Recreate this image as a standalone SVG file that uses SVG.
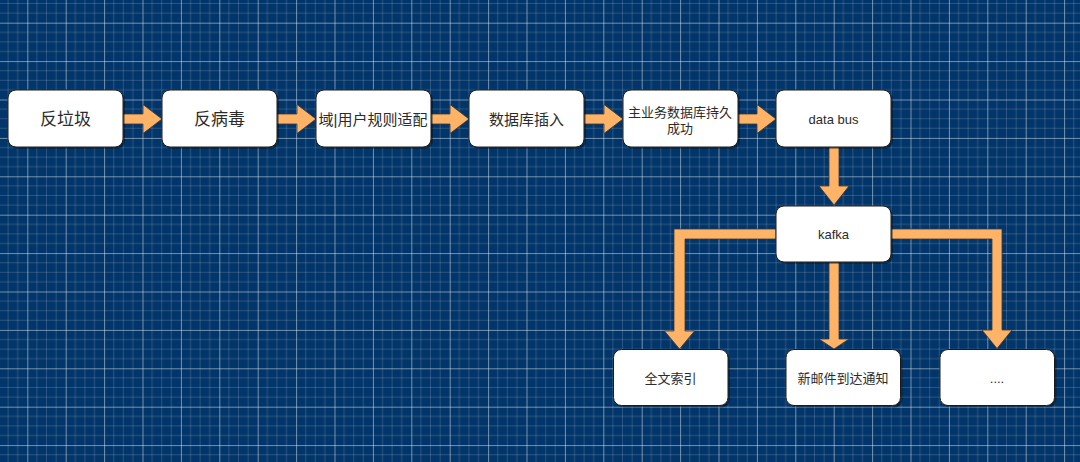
<svg xmlns="http://www.w3.org/2000/svg" width="1080" height="462" viewBox="0 0 1080 462">
  <style>
    .box { fill: #ffffff; stroke: #1a1a1a; stroke-width: 1; }
    .shadow { fill: #000000; opacity: 0.35; }
    .arrow { fill: #FFB366; stroke: #3a3a3a; stroke-width: 0.8; stroke-linejoin: miter; }
    .lbl { font-family: "Liberation Sans", "Noto Sans CJK SC", sans-serif; fill: #2b2b2b; text-anchor: middle; dominant-baseline: central; }
    .s13 { font-size: 13px; }
    .s15 { font-size: 15px; }
    .s17 { font-size: 17px; }
  </style>
  <defs>
    <pattern id="grid" patternUnits="userSpaceOnUse" x="27.3" y="22.7" width="38.4" height="38.4">
      <rect width="38.4" height="38.4" fill="#023569"/>
      <g stroke="#ffffff" stroke-opacity="0.16" stroke-width="1">
        <line x1="9.6" y1="0" x2="9.6" y2="38.4"/>
        <line x1="19.2" y1="0" x2="19.2" y2="38.4"/>
        <line x1="28.8" y1="0" x2="28.8" y2="38.4"/>
        <line x1="0" y1="9.6" x2="38.4" y2="9.6"/>
        <line x1="0" y1="19.2" x2="38.4" y2="19.2"/>
        <line x1="0" y1="28.8" x2="38.4" y2="28.8"/>
      </g>
      <g stroke="#ffffff" stroke-opacity="0.45" stroke-width="1">
        <line x1="0.5" y1="0" x2="0.5" y2="38.4"/>
        <line x1="0" y1="0.5" x2="38.4" y2="0.5"/>
      </g>
    </pattern>
  </defs>

  <rect x="0" y="0" width="1080" height="462" fill="url(#grid)"/>

  <g id="connectors">
    <path class="arrow" d="M123,114 H143 V104.5 L162,119 L143,133.5 V124 H123 Z"/>
    <path class="arrow" d="M277,114 H297 V104.5 L316,119 L297,133.5 V124 H277 Z"/>
    <path class="arrow" d="M431,114 H450 V104.5 L469,119 L450,133.5 V124 H431 Z"/>
    <path class="arrow" d="M584,114 H604 V104.5 L623,119 L604,133.5 V124 H584 Z"/>
    <path class="arrow" d="M738,114 H757 V104.5 L776,119 L757,133.5 V124 H738 Z"/>
    <path class="arrow" d="M829,147 V186 H819 L834,205 L849,186 H839 V147 Z"/>
    <path class="arrow" d="M776,229 H674 V331 H664.5 L679.5,349 L694.5,331 H685 V239 H776 Z"/>
    <path class="arrow" d="M829,262 V339 H819 L834,349 L849,339 H839 V262 Z"/>
    <path class="arrow" d="M891,229 H1002 V330 H1012 L997,348.5 L982,330 H992 V239 H891 Z"/>
  </g>

  <g id="n1">
    <rect class="shadow" x="10" y="92" width="115" height="57" rx="8"/>
    <rect class="box" x="8" y="90" width="115" height="57" rx="8"/>
    <text class="lbl s17" x="65.5" y="119">反垃圾</text>
  </g>
  <g id="n2">
    <rect class="shadow" x="164" y="92" width="115" height="57" rx="8"/>
    <rect class="box" x="162" y="90" width="115" height="57" rx="8"/>
    <text class="lbl s17" x="219.5" y="119">反病毒</text>
  </g>
  <g id="n3">
    <rect class="shadow" x="318" y="92" width="115" height="57" rx="8"/>
    <rect class="box" x="316" y="90" width="115" height="57" rx="8"/>
    <text class="lbl s15" x="373" y="119">域|用户规则适配</text>
  </g>
  <g id="n4">
    <rect class="shadow" x="471" y="92" width="115" height="57" rx="8"/>
    <rect class="box" x="469" y="90" width="115" height="57" rx="8"/>
    <text class="lbl s15" x="526.5" y="119">数据库插入</text>
  </g>
  <g id="n5">
    <rect class="shadow" x="625" y="92" width="115" height="57" rx="8"/>
    <rect class="box" x="623" y="90" width="115" height="57" rx="8"/>
    <text class="lbl s13" x="680" y="112.5">主业务数据库持久</text>
    <text class="lbl s13" x="680" y="128">成功</text>
  </g>
  <g id="n6">
    <rect class="shadow" x="778" y="92" width="115" height="57" rx="8"/>
    <rect class="box" x="776" y="90" width="115" height="57" rx="8"/>
    <text class="lbl s13" x="833.5" y="119">data bus</text>
  </g>
  <g id="n7">
    <rect class="shadow" x="778" y="208" width="115" height="56" rx="8"/>
    <rect class="box" x="776" y="206" width="115" height="56" rx="8"/>
    <text class="lbl s13" x="833.5" y="234">kafka</text>
  </g>
  <g id="n8">
    <rect class="shadow" x="615.5" y="351.5" width="114.5" height="56" rx="8"/>
    <rect class="box" x="613.5" y="349.5" width="114.5" height="56" rx="8"/>
    <text class="lbl s13" x="670.5" y="378.5">全文索引</text>
  </g>
  <g id="n9">
    <rect class="shadow" x="788" y="351.5" width="114.5" height="56" rx="8"/>
    <rect class="box" x="786" y="349.5" width="114.5" height="56" rx="8"/>
    <text class="lbl s13" x="843" y="378.5">新邮件到达通知</text>
  </g>
  <g id="n10">
    <rect class="shadow" x="942" y="351.5" width="114.5" height="56" rx="8"/>
    <rect class="box" x="940" y="349.5" width="114.5" height="56" rx="8"/>
    <text class="lbl s13" x="997" y="378.5">....</text>
  </g>
</svg>
